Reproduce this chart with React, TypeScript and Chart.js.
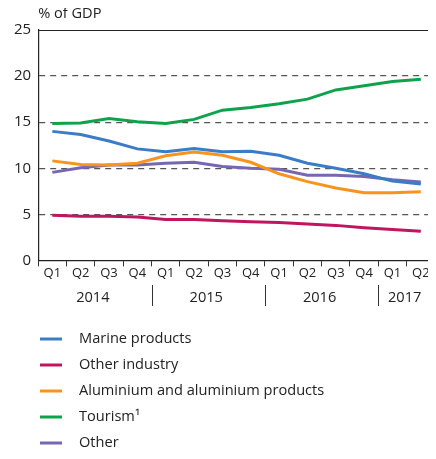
import React, { useEffect, useRef } from "react";
import { Chart, registerables } from "chart.js";

Chart.register(...registerables);

const quarters = ["Q1", "Q2", "Q3", "Q4", "Q1", "Q2", "Q3", "Q4", "Q1", "Q2", "Q3", "Q4", "Q1", "Q2"];
const years = ["2014", "2015", "2016", "2017"];
const quartersPerYear = [4, 4, 4, 2];
const yTicks = [0, 5, 10, 15, 20, 25];

const marineProducts = [14.0, 13.65, 12.95, 12.1, 11.8, 12.15, 11.8, 11.85, 11.4, 10.55, 10.0, 9.4, 8.6, 8.3];
const otherIndustry = [4.9, 4.8, 4.8, 4.7, 4.45, 4.45, 4.3, 4.2, 4.1, 3.95, 3.8, 3.55, 3.35, 3.15];
const aluminium = [10.8, 10.4, 10.35, 10.55, 11.35, 11.75, 11.4, 10.65, 9.4, 8.55, 7.85, 7.35, 7.35, 7.45];
const tourism = [14.85, 14.9, 15.4, 15.05, 14.85, 15.3, 16.3, 16.6, 17.0, 17.5, 18.5, 18.95, 19.4, 19.65];
const other = [9.55, 10.05, 10.35, 10.35, 10.55, 10.65, 10.2, 10.0, 9.9, 9.25, 9.25, 9.1, 8.75, 8.5];

const FONT = "'Open Sans', 'Noto Sans', sans-serif";
const TEXT = "#222222";

const overlay = {
  id: "overlay",
  afterDraw(chart: any) {
    const { ctx, chartArea } = chart;
    ctx.save();
    // top and right borders
    ctx.strokeStyle = "#222";
    ctx.lineWidth = 1.2;
    ctx.beginPath();
    ctx.moveTo(chartArea.left, chartArea.top + 0.5);
    ctx.lineTo(chartArea.right, chartArea.top + 0.5);
    ctx.stroke();
    ctx.strokeStyle = "#c8c8c8";
    ctx.lineWidth = 1;
    ctx.beginPath();
    ctx.moveTo(chartArea.right - 0.5, chartArea.top);
    ctx.lineTo(chartArea.right - 0.5, chartArea.bottom);
    ctx.stroke();

    // axis title
    ctx.fillStyle = TEXT;
    ctx.font = `14.6px ${FONT}`;
    ctx.textAlign = "left";
    ctx.textBaseline = "middle";
    ctx.fillText("% of GDP", chartArea.left, 14);

    // years and separators
    const step = (chartArea.right - chartArea.left) / quarters.length;
    let idx = 0;
    ctx.textAlign = "center";
    years.forEach((yr, i) => {
      const start = chartArea.left + idx * step;
      idx += quartersPerYear[i];
      const end = chartArea.left + idx * step;
      ctx.fillText(yr, (start + end) / 2 - 2, 298);
      if (i < years.length - 1) {
        ctx.strokeStyle = "#333";
        ctx.lineWidth = 1;
        ctx.beginPath();
        ctx.moveTo(Math.round(end) + 0.5, 285);
        ctx.lineTo(Math.round(end) + 0.5, 306);
        ctx.stroke();
      }
    });

    // legend
    chart.data.datasets.forEach((ds: any, i: number) => {
      const y = 339 + i * 26;
      ctx.strokeStyle = ds.borderColor;
      ctx.lineWidth = 3;
      ctx.beginPath();
      ctx.moveTo(40, y);
      ctx.lineTo(62, y);
      ctx.stroke();
      ctx.fillStyle = TEXT;
      ctx.textAlign = "left";
      ctx.fillText(ds.label, 79, y);
    });
    ctx.restore();
  },
};

export default function App() {
  const ref = useRef<HTMLCanvasElement>(null);
  useEffect(() => {
    if (!ref.current) return;
    const mk = (label: string, data: number[], color: string) => ({
      label,
      data,
      borderColor: color,
      backgroundColor: color,
      borderWidth: 3,
      pointRadius: 0,
      tension: 0,
      fill: false,
    });
    const chart = new Chart(ref.current, {
      type: "line",
      data: {
        labels: quarters,
        datasets: [
          mk("Marine products", marineProducts, "#3a7cc6"),
          mk("Other industry", otherIndustry, "#c01660"),
          mk("Aluminium and aluminium products", aluminium, "#f7941d"),
          mk("Tourism\u00b9", tourism, "#0fa24c"),
          mk("Other", other, "#7767b3"),
        ],
      },
      options: {
        responsive: false,
        animation: false,
        layout: { padding: { top: 30, right: 1, bottom: 179, left: 7 } },
        plugins: { legend: { display: false }, tooltip: { enabled: false } },
        scales: {
          x: {
            offset: true,
            grid: { display: true, drawOnChartArea: false, drawTicks: true, tickLength: 6, color: "#333", offset: true },
            border: { display: true, color: "#222", width: 1.2 },
            ticks: { color: TEXT, font: { family: FONT, size: 13 }, padding: -1, maxRotation: 0, autoSkip: false },
          },
          y: {
            min: 0,
            max: 25,
            afterBuildTicks: (s: any) => {
              s.ticks = yTicks.map((v) => ({ value: v }));
            },
            grid: {
              color: (c: any) => (c.tick && (c.tick.value === 0 || c.tick.value === 25) ? "rgba(0,0,0,0)" : "#555"),
              drawTicks: false,
              lineWidth: 1.3,
            },
            border: { display: true, color: "#222", width: 1.2, dash: [6, 5] },
            ticks: { color: TEXT, font: { family: FONT, size: 15 }, padding: 7 },
          },
        },
      },
      plugins: [overlay],
    });
    return () => chart.destroy();
  }, []);
  return (
    <div style={{ margin: -8, width: 436, height: 459 }}>
      <canvas ref={ref} width={436} height={459} style={{ display: "block" }} />
    </div>
  );
}
